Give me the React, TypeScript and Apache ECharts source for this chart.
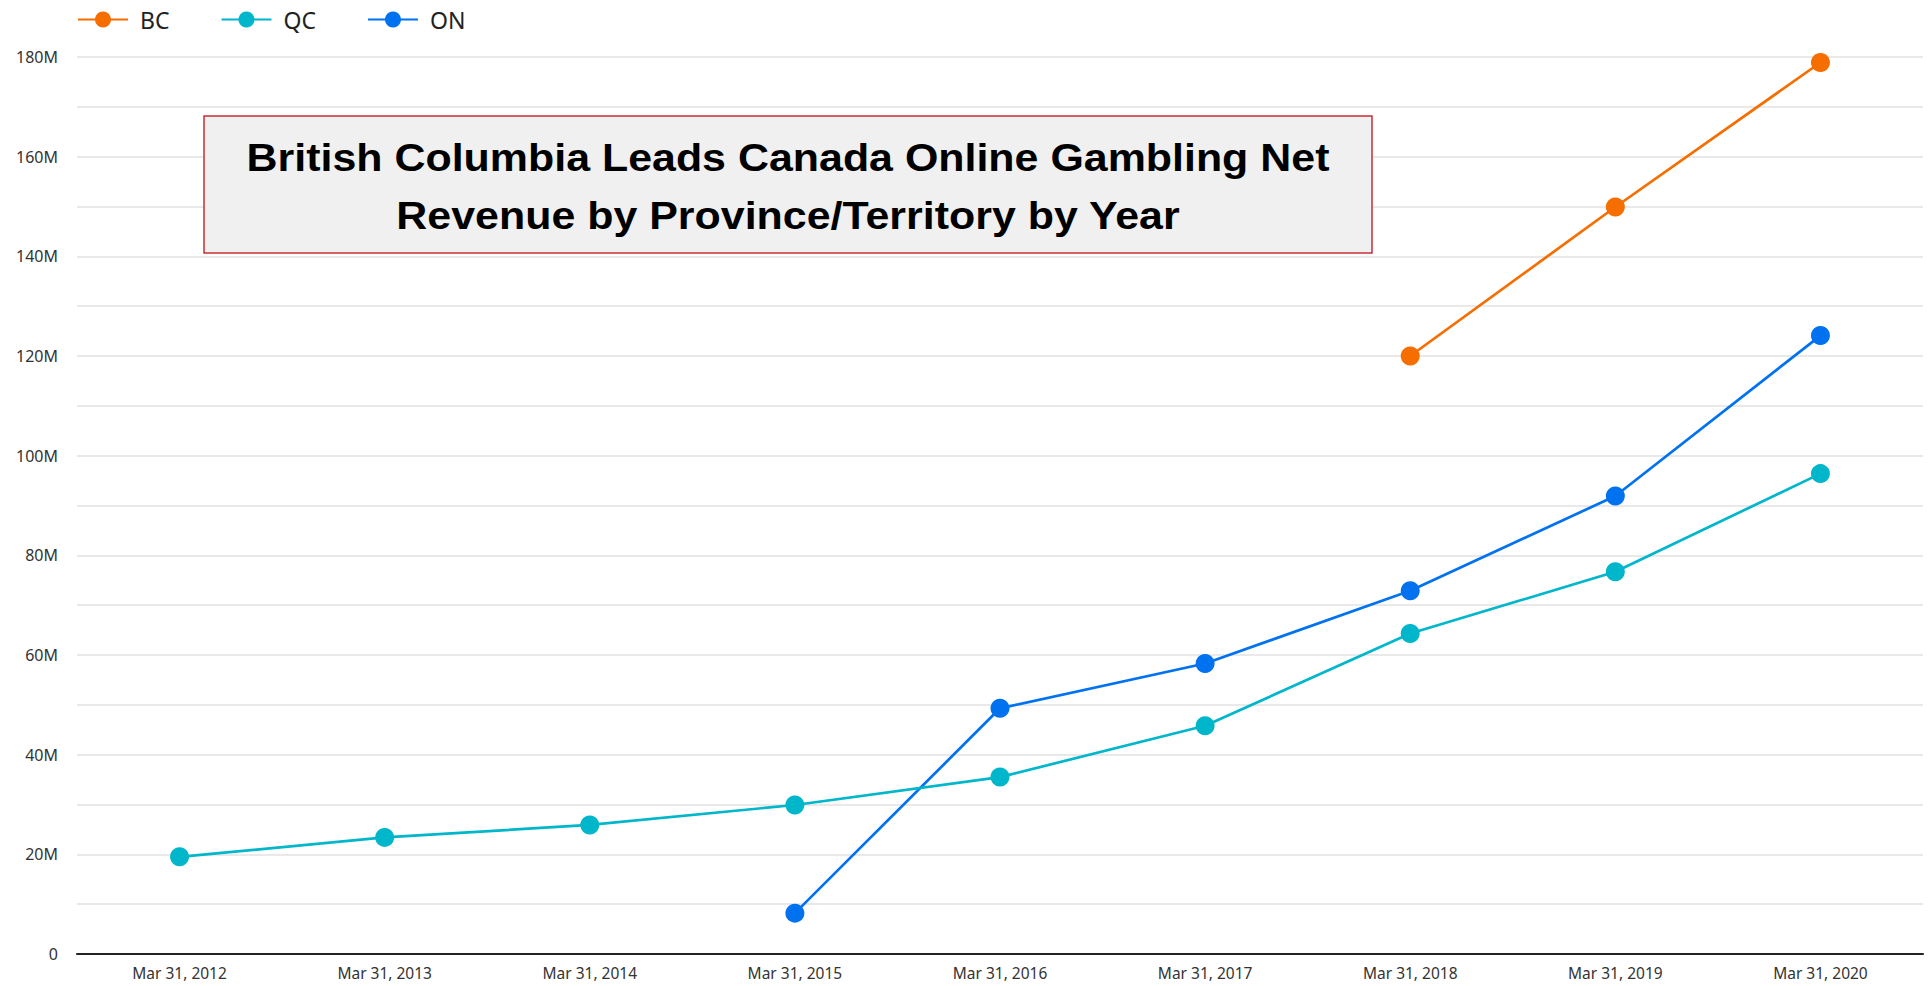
import React, { useEffect, useRef } from "react";
import * as echarts from "echarts";

const categories = [
  "Mar 31, 2012",
  "Mar 31, 2013",
  "Mar 31, 2014",
  "Mar 31, 2015",
  "Mar 31, 2016",
  "Mar 31, 2017",
  "Mar 31, 2018",
  "Mar 31, 2019",
  "Mar 31, 2020",
];

// values in millions
const bcValues = [null, null, null, null, null, null, 120, 149.9, 178.9];
const qcValues = [19.5, 23.4, 25.9, 29.9, 35.5, 45.8, 64.3, 76.7, 96.4];
const onValues = [null, null, null, 8.2, 49.3, 58.3, 72.9, 91.9, 124.1];

const seriesNames = ["BC", "QC", "ON"];
const seriesColors = ["#f66d00", "#00b6cb", "#0072f0"];

const titleLines = [
  "British Columbia Leads Canada Online Gambling Net",
  "Revenue by Province/Territory by Year",
];

export default function App() {
  const ref = useRef<HTMLDivElement>(null);

  useEffect(() => {
    if (!ref.current) return;
    const chart = echarts.init(ref.current, null, { renderer: "svg" });
    const dataSets = [bcValues, qcValues, onValues];
    const titleFont = 'bold 38px "Liberation Sans", Arial, sans-serif';
    const option = {
      animation: false,
      backgroundColor: "#ffffff",
      legend: {
        left: 77,
        top: 8,
        padding: 0,
        itemWidth: 50,
        itemHeight: 20,
        itemGap: 51,
        data: seriesNames,
        textStyle: {
          fontFamily: "Noto Sans",
          fontSize: 23,
          color: "#222222",
          padding: [0, 0, 0, 7],
        },
      },
      grid: {
        left: 77,
        right: 9,
        top: 57,
        bottom: 32,
        containLabel: false,
      },
      xAxis: {
        type: "category",
        data: categories,
        boundaryGap: true,
        axisLine: { show: true, lineStyle: { color: "#222222", width: 2 } },
        axisTick: { show: false },
        axisLabel: {
          margin: 11,
          fontFamily: "Noto Sans",
          fontSize: 15.5,
          color: "#333333",
        },
        splitLine: { show: false },
      },
      yAxis: {
        type: "value",
        min: 0,
        max: 180,
        interval: 20,
        axisLine: { show: false },
        axisTick: { show: false },
        axisLabel: {
          margin: 19,
          fontFamily: "Noto Sans",
          fontSize: 16,
          color: "#333333",
          formatter: (v: number) => (v === 0 ? "0" : `${v}M`),
        },
        splitLine: { show: true, lineStyle: { color: "#e2e2e2", width: 1.5 } },
        minorTick: { show: false, splitNumber: 2 },
        minorSplitLine: { show: true, lineStyle: { color: "#e2e2e2", width: 1.5 } },
      },
      series: seriesNames.map((name, i) => ({
        name,
        type: "line",
        data: dataSets[i],
        symbol: "circle",
        symbolSize: 19,
        showSymbol: true,
        connectNulls: false,
        lineStyle: { color: seriesColors[i], width: 2.7 },
        itemStyle: { color: seriesColors[i] },
        z: 3 - i,
      })),
      graphic: [
        {
          type: "rect",
          z: 100,
          shape: { x: 204, y: 116, width: 1168, height: 137 },
          style: { fill: "#f0f0f0", stroke: "#c62f34", lineWidth: 1.5 },
        },
        {
          type: "text",
          z: 101,
          x: 788,
          y: 158,
          scaleX: 1.13,
          style: {
            text: titleLines[0],
            fill: "#000000",
            stroke: "none",
            lineWidth: 0,
            font: titleFont,
            align: "center",
            verticalAlign: "middle",
          },
        },
        {
          type: "text",
          z: 101,
          x: 788,
          y: 216,
          scaleX: 1.13,
          style: {
            text: titleLines[1],
            fill: "#000000",
            stroke: "none",
            lineWidth: 0,
            font: titleFont,
            align: "center",
            verticalAlign: "middle",
          },
        },
      ],
    };
    chart.setOption(option as any);
    return () => {
      chart.dispose();
    };
  }, []);

  return (
    <div
      ref={ref}
      style={{ position: "fixed", left: 0, top: 0, width: 1932, height: 986 }}
    />
  );
}
